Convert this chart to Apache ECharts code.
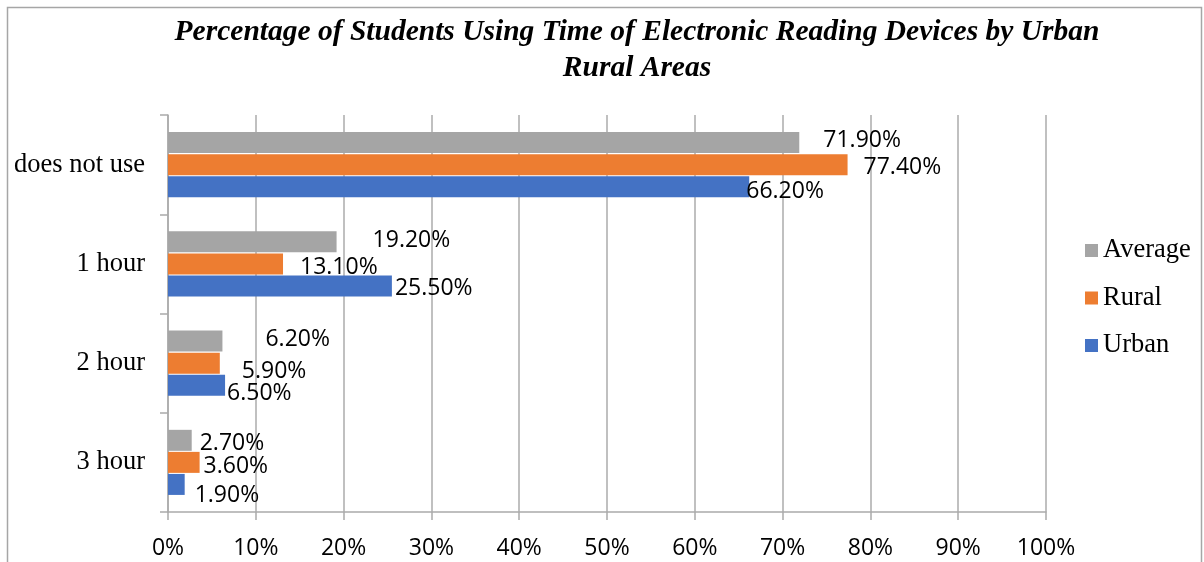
<!DOCTYPE html>
<html>
<head>
<meta charset="utf-8">
<script src="https://cdn.jsdelivr.net/npm/echarts@6/dist/echarts.min.js"></script>
<style>
  html, body { margin: 0; padding: 0; background: #fff; }
  #chart { width: 1204px; height: 562px; }
</style>
</head>
<body>
<div id="chart"></div>
<script>
// Usage time categories, listed top to bottom
const categories = ['does not use', '1 hour', '2 hour', '3 hour'];

// Percentages of students for each group
const averageValues = [71.9, 19.2, 6.2, 2.7];
const ruralValues = [77.4, 13.1, 5.9, 3.6];
const urbanValues = [66.2, 25.5, 6.5, 1.9];

// Value axis tick settings (percent)
const axisMin = 0;
const axisMax = 100;
const axisStep = 10;

// Hand-placed label nudges [dx, dy] for each bar's value label
const averageLabelShift = [[24, -2.5], [36, -1], [43, -2], [8, 3]];
const ruralLabelShift = [[16, 2.5], [17, 4], [22, 8], [4, 4]];
const urbanLabelShift = [[-3, 4.5], [3, 2.5], [2, 8.5], [10, 11]];

const gridGray = '#ababab';
const sansFont = '"Open Sans", "Liberation Sans", sans-serif';
const serifFont = '"Liberation Serif", "DejaVu Serif", serif';

function withLabels(values, shifts) {
  return values.map((v, i) => ({
    value: v,
    label: { offset: shifts[i] }
  }));
}

function barSeries(name, color, values, shifts) {
  return {
    name: name,
    type: 'bar',
    barWidth: 21,
    barGap: '5%',
    itemStyle: { color: color },
    label: {
      show: true,
      position: 'right',
      distance: 0,
      fontFamily: sansFont,
      fontSize: 23,
      color: '#000',
      formatter: p => p.value.toFixed(2) + '%'
    },
    data: withLabels(values, shifts)
  };
}

const chart = echarts.init(document.getElementById('chart'), null, { renderer: 'canvas' });

chart.setOption({
  animation: false,
  backgroundColor: '#fff',
  graphic: [{
    type: 'rect',
    z: -10,
    shape: { x: 7.5, y: 7.5, width: 1194, height: 700 },
    style: { fill: '#fff', stroke: '#a6a6a6', lineWidth: 1.5 }
  }],
  title: {
    text: 'Percentage of Students Using Time of Electronic Reading Devices by Urban\nRural Areas',
    left: 632,
    top: 9,
    textAlign: 'center',
    textStyle: {
      fontFamily: serifFont,
      fontStyle: 'italic',
      fontWeight: 'bold',
      fontSize: 29.5,
      lineHeight: 36,
      color: '#000'
    }
  },
  legend: {
    orient: 'vertical',
    left: 1080,
    top: 232,
    itemWidth: 13,
    itemHeight: 13,
    itemGap: 20.5,
    icon: 'rect',
    data: ['Average', 'Rural', 'Urban'],
    textStyle: {
      fontFamily: serifFont,
      fontSize: 26.5,
      lineHeight: 26,
      color: '#000'
    }
  },
  grid: {
    left: 168,
    top: 115,
    width: 878,
    height: 397,
    containLabel: false
  },
  xAxis: {
    type: 'value',
    min: axisMin,
    max: axisMax,
    interval: axisStep,
    axisLine: { show: true, lineStyle: { color: gridGray, width: 1.5 } },
    axisTick: { show: true, length: 8, lineStyle: { color: gridGray, width: 1.5 } },
    splitLine: { show: true, lineStyle: { color: gridGray, width: 1.5 } },
    axisLabel: {
      margin: 25,
      fontFamily: sansFont,
      fontSize: 23,
      color: '#000',
      formatter: '{value}%'
    }
  },
  yAxis: {
    type: 'category',
    inverse: true,
    data: categories,
    axisLine: { show: true, lineStyle: { color: gridGray, width: 1.5 } },
    axisTick: { show: true, length: 8, lineStyle: { color: gridGray, width: 1.5 } },
    axisLabel: {
      margin: 23,
      padding: [8, 0, 0, 0],
      fontFamily: serifFont,
      fontSize: 26.5,
      color: '#000'
    }
  },
  series: [
    barSeries('Average', '#A5A5A5', averageValues, averageLabelShift),
    barSeries('Rural', '#ED7D31', ruralValues, ruralLabelShift),
    barSeries('Urban', '#4472C4', urbanValues, urbanLabelShift)
  ]
});
</script>
</body>
</html>
